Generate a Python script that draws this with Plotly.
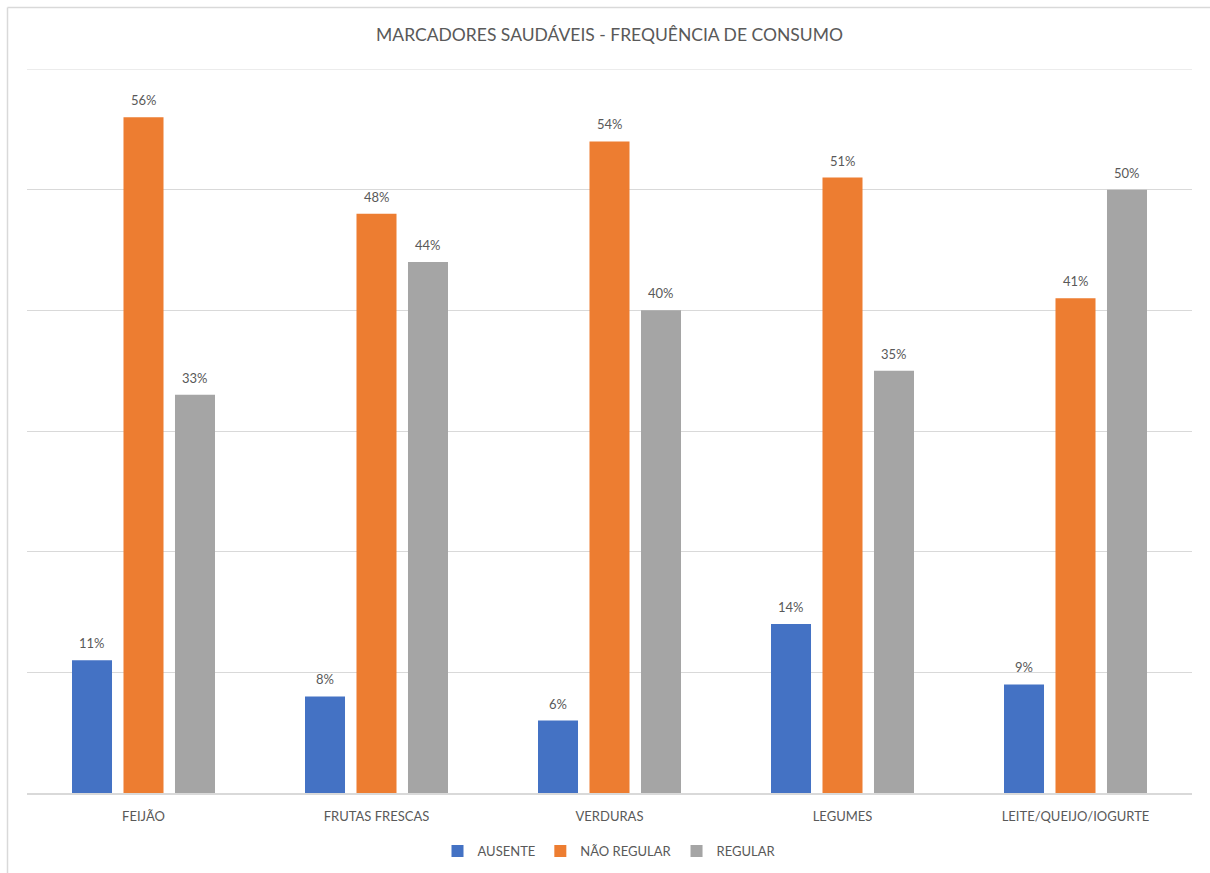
import plotly.graph_objects as go

categories = ["FEIJÃO", "FRUTAS FRESCAS", "VERDURAS", "LEGUMES", "LEITE/QUEIJO/IOGURTE"]
ausente = [11, 8, 6, 14, 9]
nao_regular = [56, 48, 54, 51, 41]
regular = [33, 44, 40, 35, 50]
series_names = ["AUSENTE", "NÃO REGULAR", "REGULAR"]
colors = ["#4472C4", "#ED7D31", "#A5A5A5"]

FONT = "Lato"
TXT = "#595959"
W, H = 1210, 873
ML, MR, MT, MB = 27, 18, 69, 80
BARGAP, GROUPGAP = 0.337, 0.223
plot_w = W - ML - MR
plot_h = H - MT - MB

fig = go.Figure()
all_series = [ausente, nao_regular, regular]
for name, vals, col in zip(series_names, all_series, colors):
    fig.add_trace(go.Bar(
        x=categories, y=vals, name=name, marker_color=col,
        marker_line_width=0, cliponaxis=False,
    ))

# data labels, placed above each bar of its group
slot = plot_w / len(categories) * (1 - BARGAP) / len(all_series)
for i, vals in enumerate(all_series):
    for c, v in zip(categories, vals):
        fig.add_annotation(x=c, y=v, xref="x", yref="y", text=f"{v}%",
                           showarrow=False, yanchor="bottom",
                           xshift=(i - 1) * slot, yshift=7,
                           font=dict(family=FONT, size=13, color=TXT))

fig.update_layout(
    width=W, height=H,
    margin=dict(l=ML, r=MR, t=MT, b=MB, autoexpand=False),
    paper_bgcolor="white", plot_bgcolor="white",
    barmode="group", bargap=BARGAP, bargroupgap=GROUPGAP,
    title=dict(text="MARCADORES SAUDÁVEIS - FREQUÊNCIA DE CONSUMO",
               x=0.5, xref="paper", y=1 - 35/H, yanchor="middle",
               font=dict(family=FONT, size=17.5, color=TXT)),
    showlegend=True,
    legend=dict(orientation="h", x=0.5, xanchor="center", y=-58/plot_h, yanchor="middle",
                font=dict(family=FONT, size=13, color=TXT), itemwidth=30,
                traceorder="normal"),
    font=dict(family=FONT, color=TXT),
)
fig.update_yaxes(range=[0, 60], dtick=10, showticklabels=False, showgrid=True,
                 gridcolor="#d9d9d9", gridwidth=1, zeroline=False, showline=False)
fig.update_xaxes(showline=True, linecolor="#d9d9d9", linewidth=1.5, ticks="",
                 tickfont=dict(family=FONT, size=13, color=TXT), ticklabelstandoff=11,
                 automargin=False)

# top gridline (at the edge of the range)
fig.add_shape(type="line", xref="paper", yref="y", x0=0, x1=1, y0=60, y1=60,
              line=dict(color="#d9d9d9", width=1), layer="below")

# chart frame (left and top edges visible)
fx = (7.5 - ML) / plot_w
fy = 1 + (MT - 7.5) / plot_h
fig.add_shape(type="line", xref="paper", yref="paper",
              x0=fx, x1=fx, y0=-(MB - 0) / plot_h, y1=fy,
              line=dict(color="#d9d9d9", width=1.5))
fig.add_shape(type="line", xref="paper", yref="paper",
              x0=fx, x1=(W + 5 - ML) / plot_w, y0=fy, y1=fy,
              line=dict(color="#d9d9d9", width=1.5))

fig.write_html("out.html")
